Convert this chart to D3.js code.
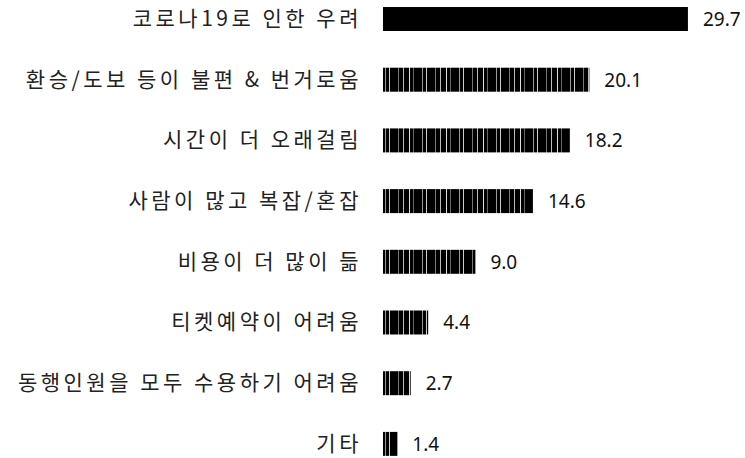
<!DOCTYPE html>
<html>
<head>
<meta charset="utf-8">
<script src="https://cdn.jsdelivr.net/npm/d3@7"></script>
<style>
  body { margin: 0; background: #fff; }
</style>
</head>
<body>
<svg width="745" height="458"></svg>
<script>
const categories = [
  "코로나19로 인한 우려",
  "환승/도보 등이 불편 & 번거로움",
  "시간이 더 오래걸림",
  "사람이 많고 복잡/혼잡",
  "비용이 더 많이 듦",
  "티켓예약이 어려움",
  "동행인원을 모두 수용하기 어려움",
  "기타"
];
const values = [29.7, 20.1, 18.2, 14.6, 9.0, 4.4, 2.7, 1.4];

const svg = d3.select("svg");
const margin = { left: 383, top: -29.7 };

const x = d3.scaleLinear().domain([0, 30]).range([margin.left, margin.left + 308]);
const y = d3.scaleBand().domain(categories).range([margin.top, 492.6]).paddingInner(0.605).paddingOuter(0.605);

// scanned-looking stripes on the bars
const defs = svg.append("defs");
const pat = defs.append("pattern")
  .attr("id", "scan")
  .attr("patternUnits", "userSpaceOnUse")
  .attr("width", 37).attr("height", 24);
pat.append("rect").attr("width", 37).attr("height", 24).attr("fill", "#000");
[[2, "#ddd"], [6, "#666"], [15, "#999"], [19, "#ccc"], [28, "#777"], [33, "#bbb"]].forEach(([px, c]) => {
  pat.append("rect").attr("x", px).attr("width", 1).attr("height", 24).attr("fill", c);
});

svg.selectAll(".bar")
  .data(values)
  .join("rect")
  .attr("class", "bar")
  .attr("x", x(0))
  .attr("y", (d, i) => y(categories[i]))
  .attr("width", d => x(d) - x(0))
  .attr("height", y.bandwidth())
  .attr("fill", (d, i) => i === 0 ? "#000" : "url(#scan)");

svg.selectAll(".cat")
  .data(categories)
  .join("text")
  .attr("class", "cat")
  .attr("x", x(0) - 21)
  .attr("y", d => y(d) + y.bandwidth() / 2 - 2)
  .attr("text-anchor", "end")
  .attr("dominant-baseline", "central")
  .attr("font-family", "'Noto Sans CJK KR', sans-serif")
  .attr("font-size", "21px")
  .attr("letter-spacing", "3.5px")
  .attr("fill", "#222")
  .text(d => d);

svg.selectAll(".val")
  .data(values)
  .join("text")
  .attr("class", "val")
  .attr("x", d => x(d) + 15)
  .attr("y", (d, i) => y(categories[i]) + y.bandwidth() / 2)
  .attr("dominant-baseline", "central")
  .attr("font-family", "'Noto Sans', sans-serif")
  .attr("font-size", "19px")
  .attr("fill", "#111")
  .text(d => d.toFixed(1));
</script>
</body>
</html>
